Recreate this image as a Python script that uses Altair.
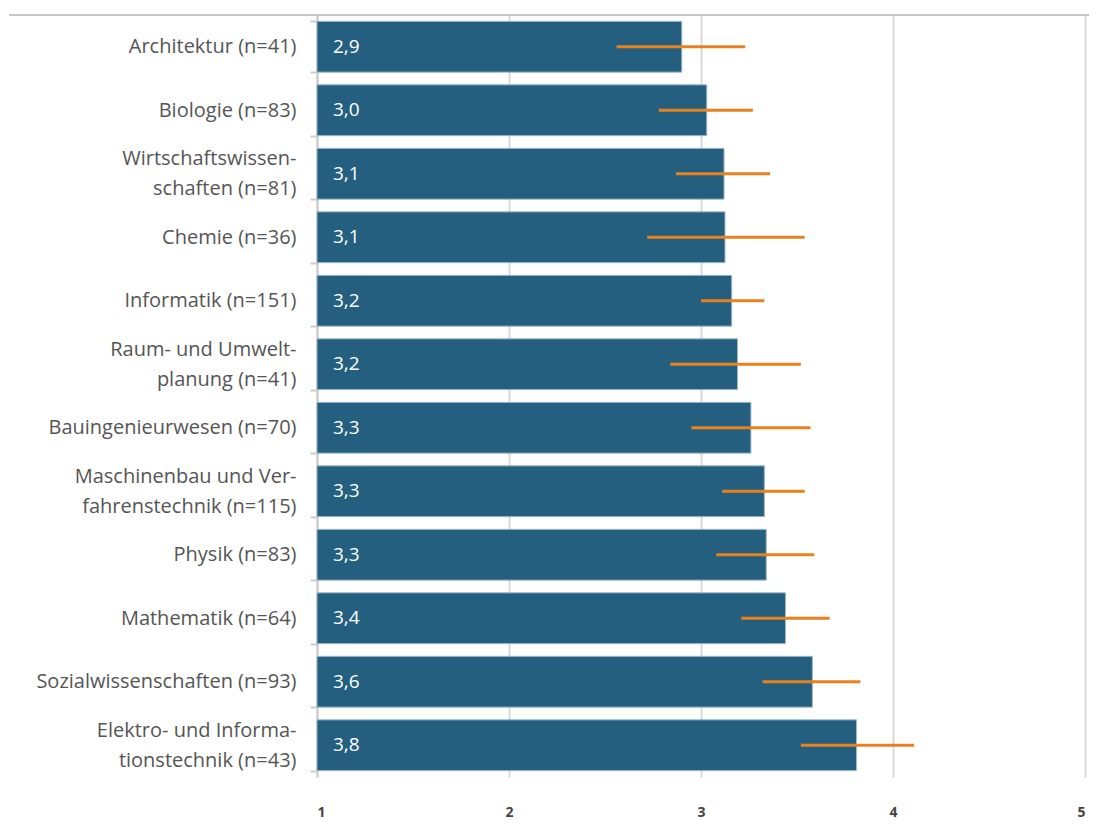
import altair as alt
import pandas as pd

categories = [
    "Architektur (n=41)",
    "Biologie (n=83)",
    "Wirtschaftswissen-|schaften (n=81)",
    "Chemie (n=36)",
    "Informatik (n=151)",
    "Raum- und Umwelt-|planung (n=41)",
    "Bauingenieurwesen (n=70)",
    "Maschinenbau und Ver-|fahrenstechnik (n=115)",
    "Physik (n=83)",
    "Mathematik (n=64)",
    "Sozialwissenschaften (n=93)",
    "Elektro- und Informa-|tionstechnik (n=43)",
]
means = [2.90, 3.03, 3.12, 3.125, 3.16, 3.19, 3.26, 3.33, 3.34, 3.44, 3.58, 3.81]
labels = ["2,9", "3,0", "3,1", "3,1", "3,2", "3,2", "3,3", "3,3", "3,3", "3,4", "3,6", "3,8"]
err_low = [2.56, 2.78, 2.87, 2.72, 3.00, 2.84, 2.95, 3.11, 3.08, 3.21, 3.32, 3.52]
err_high = [3.23, 3.27, 3.36, 3.54, 3.33, 3.52, 3.57, 3.54, 3.59, 3.67, 3.83, 4.11]
base = [1.0] * len(categories)

df = pd.DataFrame({
    "cat": categories, "mean": means, "label": labels,
    "lo": err_low, "hi": err_high, "base": base,
})

W, H = 768, 762
FONT = "Open Sans"

y = alt.Y(
    "cat:N", sort=categories, title=None,
    scale=alt.Scale(paddingInner=0.2, paddingOuter=0.1),
    axis=alt.Axis(
        labelExpr="split(datum.label, '|')",
        labelOffset=alt.expr("indexof(datum.label, '|') >= 0 ? -15 : 0"),
        labelFont=FONT, labelFontSize=20, labelColor="#555555",
        labelLineHeight=30, labelPadding=14, labelLimit=400,
        domainColor="#cccccc", domainWidth=2, tickColor="#cccccc",
        tickWidth=2, tickSize=7, tickBand="extent", grid=False,
    ),
)

x_scale = alt.Scale(domain=[1, 5], nice=False, zero=False)

bars = alt.Chart(df).mark_bar(
    color="#245f80", stroke="#9fb9ca", strokeWidth=1
).encode(
    y=y,
    x=alt.X(
        "base:Q", scale=x_scale, title=None,
        axis=alt.Axis(
            values=[1, 2, 3, 4, 5], format="d", domain=False, ticks=False,
            grid=True, gridColor="#d9d9d9", gridWidth=2,
            labelFont=FONT, labelFontSize=14, labelFontWeight="bold",
            labelColor="#444444", labelPadding=28,
        ),
    ),
    x2="mean:Q",
)

text = alt.Chart(df).mark_text(
    align="left", baseline="middle", dx=16, color="white",
    font=FONT, fontSize=19
).encode(
    y=alt.Y("cat:N", sort=categories),
    x=alt.X("base:Q", scale=x_scale),
    text="label:N",
)

err = alt.Chart(df).mark_rule(color="#e8821e", strokeWidth=3).encode(
    y=alt.Y("cat:N", sort=categories),
    x=alt.X("lo:Q", scale=x_scale),
    x2="hi:Q",
)

topline = alt.Chart(df).mark_rule(color="#c8c8c8", strokeWidth=2).encode(
    x=alt.value(-308), x2=alt.value(W + 12), y=alt.value(0)
)

chart = alt.layer(bars, err, text, topline).properties(
    width=W, height=H,
    autosize=alt.AutoSizeParams(type="none"),
    padding={"left": 309, "top": 7, "right": 4, "bottom": 48},
).configure_view(stroke=None)

chart.save("out.html", embed_options={"renderer": "svg", "actions": False})
